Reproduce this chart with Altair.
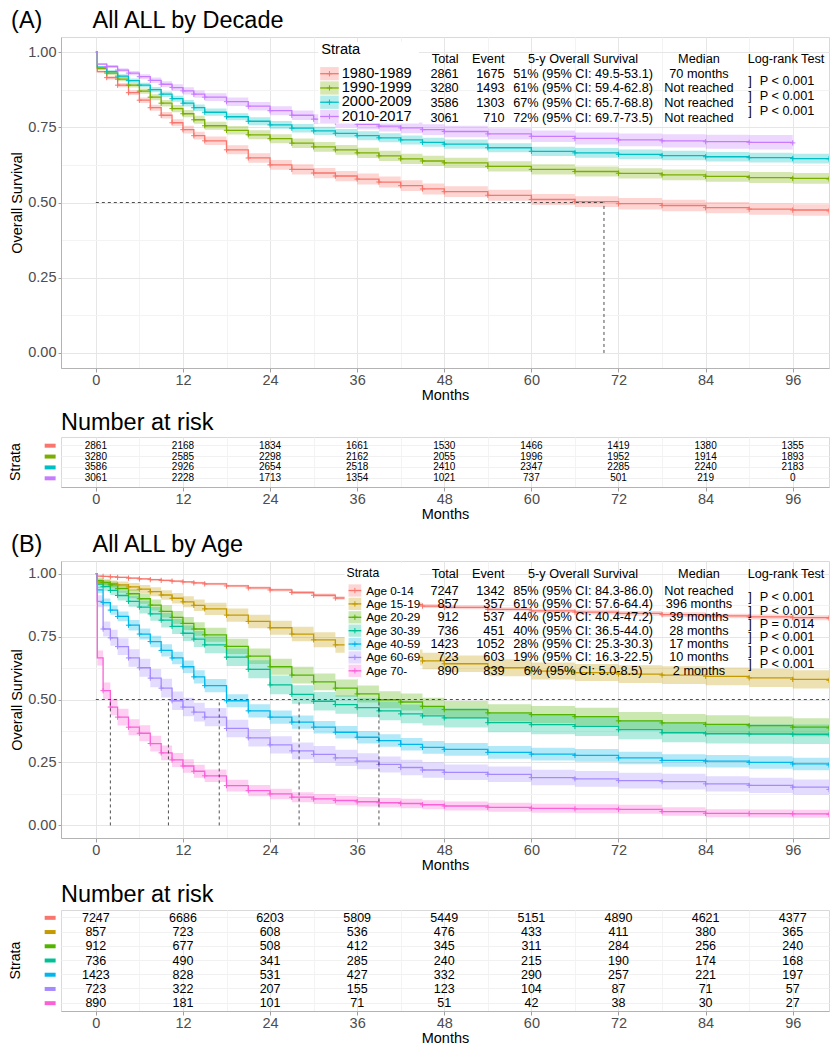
import altair as alt
import pandas as pd

FONT = "Liberation Sans"
FX = 0.978  # horizontal fit factor (reference px -> page px)
FY = 0.984  # vertical fit factor

# ---------------- Panel A: All ALL by Decade ----------------
strata_decade = ["1980-1989", "1990-1999", "2000-2009", "2010-2017"]
colors_decade = ["#F8766D", "#7CAE00", "#00BFC4", "#C77CFF"]
months_decade = [0, 0.2, 1.5, 3, 4.5, 6, 7.5, 9, 10.5, 12, 13.5, 15, 18, 21, 24, 27,
                 30, 33, 36, 39, 42, 45, 48, 54, 60, 66, 72, 78, 84, 90, 96, 101]
surv_1980s = [1.0, 0.935, 0.915, 0.89, 0.865, 0.84, 0.815, 0.79, 0.765, 0.742, 0.722, 0.705,
              0.675, 0.648, 0.625, 0.61, 0.598, 0.588, 0.578, 0.568, 0.556, 0.545, 0.536,
              0.524, 0.51, 0.503, 0.496, 0.49, 0.483, 0.478, 0.475, 0.472]
surv_1990s = [1.0, 0.945, 0.93, 0.91, 0.89, 0.87, 0.85, 0.83, 0.812, 0.795, 0.775, 0.755,
              0.74, 0.725, 0.712, 0.697, 0.685, 0.675, 0.665, 0.655, 0.645, 0.638, 0.632,
              0.62, 0.61, 0.603, 0.597, 0.592, 0.587, 0.583, 0.58, 0.578]
surv_2000s = [1.0, 0.95, 0.935, 0.92, 0.905, 0.89, 0.875, 0.86, 0.845, 0.83, 0.815, 0.80,
              0.785, 0.77, 0.758, 0.747, 0.738, 0.73, 0.722, 0.715, 0.708, 0.70, 0.694,
              0.682, 0.67, 0.665, 0.66, 0.656, 0.652, 0.649, 0.646, 0.645]
surv_2010s = [1.0, 0.96, 0.952, 0.94, 0.93, 0.918, 0.906, 0.893, 0.882, 0.871, 0.86, 0.85,
              0.835, 0.82, 0.805, 0.79, 0.777, 0.767, 0.76, 0.754, 0.748, 0.742, 0.736,
              0.728, 0.72, 0.713, 0.708, 0.705, 0.702, 0.70, 0.698, None]
half_1980s = [0, 0.004, 0.006, 0.007, 0.008, 0.009, 0.010, 0.011, 0.012, 0.013, 0.013, 0.014,
              0.015, 0.016, 0.016, 0.017, 0.017, 0.017, 0.018, 0.018, 0.018, 0.018, 0.018,
              0.018, 0.018, 0.018, 0.019, 0.019, 0.019, 0.019, 0.019, 0.019]
half_1990s = [0, 0.004, 0.006, 0.007, 0.008, 0.009, 0.010, 0.011, 0.012, 0.012, 0.013, 0.013,
              0.014, 0.015, 0.015, 0.016, 0.016, 0.016, 0.017, 0.017, 0.017, 0.017, 0.017,
              0.017, 0.017, 0.017, 0.017, 0.018, 0.018, 0.018, 0.018, 0.018]
half_2000s = [0, 0.004, 0.005, 0.006, 0.007, 0.008, 0.009, 0.009, 0.010, 0.011, 0.011, 0.012,
              0.012, 0.013, 0.013, 0.014, 0.014, 0.014, 0.015, 0.015, 0.015, 0.015, 0.015,
              0.015, 0.0155, 0.016, 0.016, 0.016, 0.016, 0.016, 0.016, 0.016]
half_2010s = [0, 0.004, 0.005, 0.006, 0.007, 0.008, 0.009, 0.010, 0.011, 0.012, 0.012, 0.013,
              0.014, 0.014, 0.015, 0.016, 0.016, 0.017, 0.017, 0.018, 0.018, 0.018, 0.019,
              0.019, 0.019, 0.020, 0.021, 0.022, 0.023, 0.024, 0.025, None]
risk_months = [0, 12, 24, 36, 48, 60, 72, 84, 96]
risk_1980s = [2861, 2168, 1834, 1661, 1530, 1466, 1419, 1380, 1355]
risk_1990s = [3280, 2585, 2298, 2162, 2055, 1996, 1952, 1914, 1893]
risk_2000s = [3586, 2926, 2654, 2518, 2410, 2347, 2285, 2240, 2183]
risk_2010s = [3061, 2228, 1713, 1354, 1021, 737, 501, 219, 0]
total_decade = [2861, 3280, 3586, 3061]
event_decade = [1675, 1493, 1303, 710]
os5_decade = ["51% (95% CI: 49.5-53.1)", "61% (95% CI: 59.4-62.8)",
              "67% (95% CI: 65.7-68.8)", "72% (95% CI: 69.7-73.5)"]
median_text_decade = ["70 months", "Not reached", "Not reached", "Not reached"]
median_months_decade = [70]
pval_decade = ["P < 0.001", "P < 0.001", "P < 0.001"]

# ---------------- Panel B: All ALL by Age ----------------
strata_age = ["Age 0-14", "Age 15-19", "Age 20-29", "Age 30-39", "Age 40-59", "Age 60-69", "Age 70-"]
colors_age = ["#F8766D", "#C49A00", "#53B400", "#00C094", "#00B6EB", "#A58AFF", "#FB61D7"]
months_age = [0, 0.2, 1, 2, 3, 4.5, 6, 7.5, 9, 10.5, 12, 13.5, 15, 18, 21, 24, 27, 30, 33,
              36, 39, 42, 45, 48, 54, 60, 66, 72, 78, 84, 90, 96, 101]
surv_0_14 = [1.0, 0.99, 0.989, 0.987, 0.985, 0.982, 0.979, 0.976, 0.973, 0.97, 0.967, 0.963,
             0.959, 0.951, 0.943, 0.935, 0.925, 0.914, 0.903, 0.894, 0.885, 0.877, 0.871,
             0.866, 0.858, 0.852, 0.847, 0.842, 0.837, 0.832, 0.828, 0.825, 0.823]
surv_15_19 = [1.0, 0.966, 0.964, 0.96, 0.955, 0.947, 0.938, 0.928, 0.915, 0.902, 0.888, 0.874,
              0.86, 0.835, 0.81, 0.785, 0.76, 0.737, 0.717, 0.70, 0.683, 0.667, 0.653, 0.642,
              0.626, 0.613, 0.607, 0.601, 0.597, 0.592, 0.586, 0.58, 0.576]
surv_20_29 = [1.0, 0.972, 0.965, 0.955, 0.94, 0.92, 0.90, 0.875, 0.85, 0.826, 0.802, 0.78,
              0.757, 0.711, 0.672, 0.63, 0.597, 0.57, 0.545, 0.522, 0.499, 0.49, 0.473, 0.46,
              0.447, 0.44, 0.432, 0.415, 0.407, 0.401, 0.396, 0.39, 0.387]
surv_30_39 = [1.0, 0.958, 0.948, 0.933, 0.913, 0.89, 0.867, 0.84, 0.815, 0.79, 0.763, 0.74,
              0.717, 0.668, 0.62, 0.558, 0.52, 0.493, 0.48, 0.468, 0.455, 0.443, 0.435, 0.427,
              0.408, 0.40, 0.393, 0.38, 0.368, 0.364, 0.363, 0.362, 0.36]
surv_40_59 = [1.0, 0.935, 0.885, 0.855, 0.83, 0.795, 0.76, 0.73, 0.695, 0.665, 0.63, 0.59,
              0.555, 0.495, 0.455, 0.43, 0.41, 0.39, 0.37, 0.35, 0.337, 0.322, 0.31, 0.302,
              0.29, 0.283, 0.278, 0.268, 0.258, 0.255, 0.25, 0.244, 0.24]
surv_60_69 = [1.0, 0.89, 0.78, 0.745, 0.71, 0.665, 0.626, 0.585, 0.545, 0.495, 0.47, 0.45,
              0.43, 0.385, 0.348, 0.32, 0.296, 0.282, 0.268, 0.255, 0.242, 0.23, 0.22, 0.211,
              0.203, 0.19, 0.185, 0.178, 0.174, 0.165, 0.159, 0.152, 0.143]
surv_70_up = [1.0, 0.665, 0.535, 0.47, 0.43, 0.39, 0.366, 0.325, 0.288, 0.26, 0.236, 0.215,
              0.197, 0.158, 0.138, 0.125, 0.112, 0.105, 0.099, 0.094, 0.09, 0.087, 0.082,
              0.077, 0.072, 0.068, 0.066, 0.064, 0.055, 0.048, 0.047, 0.046, 0.044]
half_0_14 = [0, 0.002, 0.002, 0.003, 0.003, 0.003, 0.003, 0.004, 0.004, 0.004, 0.004, 0.005,
             0.005, 0.005, 0.006, 0.006, 0.006, 0.007, 0.007, 0.007, 0.007, 0.008, 0.008,
             0.008, 0.008, 0.0085, 0.009, 0.009, 0.009, 0.009, 0.010, 0.010, 0.010]
half_15_19 = [0, 0.012, 0.012, 0.013, 0.014, 0.016, 0.017, 0.018, 0.019, 0.021, 0.022, 0.023,
              0.024, 0.026, 0.027, 0.028, 0.029, 0.030, 0.031, 0.031, 0.032, 0.032, 0.033,
              0.033, 0.034, 0.034, 0.034, 0.035, 0.035, 0.035, 0.036, 0.036, 0.036]
half_20_29 = [0, 0.011, 0.012, 0.014, 0.016, 0.018, 0.020, 0.022, 0.024, 0.025, 0.026, 0.027,
              0.028, 0.030, 0.031, 0.032, 0.033, 0.033, 0.034, 0.034, 0.034, 0.034, 0.034,
              0.034, 0.034, 0.034, 0.035, 0.035, 0.035, 0.036, 0.036, 0.036, 0.037]
half_30_39 = [0, 0.015, 0.016, 0.018, 0.020, 0.022, 0.025, 0.027, 0.029, 0.030, 0.031, 0.032,
              0.033, 0.035, 0.036, 0.037, 0.037, 0.037, 0.037, 0.037, 0.037, 0.037, 0.038,
              0.038, 0.038, 0.038, 0.038, 0.038, 0.038, 0.039, 0.039, 0.039, 0.039]
half_40_59 = [0, 0.013, 0.016, 0.018, 0.019, 0.021, 0.022, 0.023, 0.024, 0.025, 0.025, 0.026,
              0.026, 0.026, 0.026, 0.026, 0.026, 0.025, 0.025, 0.025, 0.025, 0.025, 0.025,
              0.025, 0.025, 0.025, 0.025, 0.025, 0.025, 0.025, 0.025, 0.025, 0.025]
half_60_69 = [0, 0.024, 0.030, 0.032, 0.033, 0.035, 0.036, 0.036, 0.037, 0.037, 0.037, 0.037,
              0.036, 0.035, 0.035, 0.034, 0.033, 0.033, 0.032, 0.032, 0.032, 0.031, 0.031,
              0.031, 0.031, 0.031, 0.031, 0.031, 0.031, 0.030, 0.030, 0.030, 0.030]
half_70_up = [0, 0.030, 0.033, 0.033, 0.033, 0.032, 0.032, 0.031, 0.029, 0.028, 0.027, 0.026,
              0.025, 0.023, 0.022, 0.021, 0.020, 0.020, 0.019, 0.019, 0.019, 0.019, 0.018,
              0.018, 0.018, 0.018, 0.018, 0.018, 0.017, 0.016, 0.016, 0.016, 0.016]
risk_0_14 = [7247, 6686, 6203, 5809, 5449, 5151, 4890, 4621, 4377]
risk_15_19 = [857, 723, 608, 536, 476, 433, 411, 380, 365]
risk_20_29 = [912, 677, 508, 412, 345, 311, 284, 256, 240]
risk_30_39 = [736, 490, 341, 285, 240, 215, 190, 174, 168]
risk_40_59 = [1423, 828, 531, 427, 332, 290, 257, 221, 197]
risk_60_69 = [723, 322, 207, 155, 123, 104, 87, 71, 57]
risk_70_up = [890, 181, 101, 71, 51, 42, 38, 30, 27]
total_age = [7247, 857, 912, 736, 1423, 723, 890]
event_age = [1342, 357, 537, 451, 1052, 603, 839]
os5_age = ["85% (95% CI: 84.3-86.0)", "61% (95% CI: 57.6-64.4)", "44% (95% CI: 40.4-47.2)",
           "40% (95% CI: 36.5-44.0)", "28% (95% CI: 25.3-30.3)", "19% (95% CI: 16.3-22.5)",
           "6% (95% CI: 5.0-8.5)"]
median_text_age = ["Not reached", "396 months", "39 months", "28 months", "17 months",
                   "10 months", "2 months"]
median_months_age = [396, 39, 28, 17, 10, 2]
pval_age = ["P < 0.001", "P < 0.001", "P = 0.014", "P < 0.001", "P < 0.001", "P < 0.001"]

# ---------------- layout / style ----------------
XD = [-4.8, 101.0]
YD = [-0.05, 1.05]
W = round(785.3 * FX)
H_A = round(336.6 * FY)
H_B = round(281.6 * FY)
H_RA = round(51 * FY)
H_RB = round(103 * FY)
GRID_MAJ = "#e6e6e6"
GRID_MIN = "#f3f3f3"
TICK_C = "#a0a0a0"
LAB_C = "#4d4d4d"
ONE = pd.DataFrame({"k": [0]})


def cond(test, yes, no):
    return {"condition": {"test": test, "value": yes}, "value": no}


def x_axis():
    t = "datum.value % 12 === 0"
    return alt.Axis(values=list(range(0, 97, 6)),
                    labelExpr=f"{t} ? datum.label : ''",
                    gridColor=cond(t, GRID_MAJ, GRID_MIN),
                    tickColor=cond(t, TICK_C, "transparent"),
                    tickSize=4, labelPadding=1, labelFont=FONT, labelFontSize=14.5,
                    labelColor=LAB_C, title="Months", titleFont=FONT, titleFontSize=14.5,
                    titleFontWeight="normal", titleColor="black", titlePadding=2,
                    domainColor="#b3b3b3", labelOverlap=False, labelFlush=False)


def y_axis():
    t = "(datum.value * 4) % 1 === 0"
    return alt.Axis(values=[i / 8 for i in range(9)],
                    labelExpr=f"{t} ? format(datum.value, '.2f') : ''",
                    gridColor=cond(t, GRID_MAJ, GRID_MIN),
                    tickColor=cond(t, TICK_C, "transparent"),
                    tickSize=3, labelPadding=2, labelFont=FONT, labelFontSize=14.5,
                    labelColor=LAB_C, title="Overall Survival", titleFont=FONT,
                    titleFontSize=14.5, titleFontWeight="normal", titleColor="black",
                    titlePadding=3, domainColor="#b3b3b3", labelOverlap=False, labelFlush=False)


COLS = dict(total=406.6, event=453.5, os=533.8, med=652.3, lr=741.3, br=704.5, p=714.5)


def txt(df, x, y, text, align="left", size=13, color="black", angle=None, baseline="middle"):
    kw = dict(align=align, baseline=baseline, font=FONT, fontSize=size * FX, color=color)
    if angle is not None:
        kw["angle"] = angle
    return alt.Chart(df).mark_text(**kw).encode(x=x, y=y, text=text)


def km_panel(letter, title, strata, colors, months, survs, halfs, med_months, H,
             totals, events, os5, med_text, pvals, leg, tab, letter_y):
    color = alt.Color("strata:N", scale=alt.Scale(domain=strata, range=colors), legend=None)
    xs = alt.Scale(domain=XD, nice=False, zero=False)
    ys = alt.Scale(domain=YD, nice=False, zero=False)
    xa, ya = x_axis(), y_axis()

    def X(f):
        return alt.X(f, scale=xs, axis=xa)

    def Y(f):
        return alt.Y(f, scale=ys, axis=ya, stack=None)

    def py(v):  # reference offset (px below plot top) -> data units
        return YD[1] - v * FY / H * (YD[1] - YD[0])

    rows = []
    for name, sv, hv in zip(strata, survs, halfs):
        for t, s, h in zip(months, sv, hv):
            if s is None:
                continue
            rows.append({"strata": name, "t": t, "s": s, "lo": s - h, "hi": min(s + h, 1.0)})
    cdf = pd.DataFrame(rows)

    band = alt.Chart(cdf).mark_area(interpolate="step-after", opacity=0.3, clip=True).encode(
        x=X("t:Q"), y=Y("lo:Q"), y2="hi:Q", color=color)
    line = alt.Chart(cdf).mark_line(interpolate="step-after", strokeWidth=1.3, clip=True).encode(
        x=X("t:Q"), y=Y("s:Q"), color=color)
    cens = alt.Chart(cdf).transform_filter("datum.t >= 1").mark_point(
        shape="M0,-1V1M-1,0H1", filled=False, size=28, strokeWidth=1, opacity=1,
        clip=True).encode(x=X("t:Q"), y=Y("s:Q"), color=color)

    n_med = len(med_months)
    mdf = pd.DataFrame({"x": [0] + med_months, "x2": [max(med_months)] + med_months,
                        "y": [0.5] + [0.0] * n_med, "y2": [0.5] * (n_med + 1)})
    med = alt.Chart(mdf).mark_rule(strokeDash=[3, 3], color="#222222", strokeWidth=0.8,
                                   clip=True).encode(x=X("x:Q"), x2="x2:Q", y=Y("y:Q"), y2="y2:Q")

    # legend (drawn manually, ggplot style)
    n = len(strata)
    kys = [leg["row0"] + i * leg["dy"] for i in range(n)]
    kdf = pd.DataFrame({"strata": strata,
                        "ky": [py(v) for v in kys],
                        "ky1": [py(v - leg["kh"] / 2) for v in kys],
                        "ky2": [py(v + leg["kh"] / 2) for v in kys]})
    bx1, bx2, by1, by2 = leg["bg"]
    bg = alt.Chart(ONE).mark_rect(color="white").encode(
        x=alt.value(bx1 * FX), x2=alt.value(bx2 * FX), y=alt.value(by1 * FY), y2=alt.value(by2 * FY))
    kx1, kx2 = leg["kx"]
    key_rect = alt.Chart(kdf).mark_rect(opacity=0.3).encode(
        x=alt.value(kx1 * FX), x2=alt.value(kx2 * FX), y=Y("ky1:Q"), y2="ky2:Q", color=color)
    key_line = alt.Chart(kdf).mark_rule(strokeWidth=1.3).encode(
        x=alt.value(kx1 * FX), x2=alt.value(kx2 * FX), y=Y("ky:Q"), color=color)
    key_cross = alt.Chart(kdf).mark_point(shape="M0,-1V1M-1,0H1", filled=False, size=28,
                                          strokeWidth=1, opacity=1).encode(
        x=alt.value((kx1 + kx2) / 2 * FX), y=Y("ky:Q"), color=color)
    key_lab = txt(kdf, alt.value(leg["lx"] * FX), Y("ky:Q"), "strata:N", size=leg["lfs"])
    key_title = txt(ONE, alt.value(leg["title"][0] * FX), alt.value(leg["title"][1] * FY),
                    alt.value("Strata"), size=leg["tfs"])

    # summary table
    tys = [tab["row0"] + i * tab["dy"] for i in range(n)]
    tdf = pd.DataFrame({"total": [str(v) for v in totals], "event": [str(v) for v in events],
                        "os5": os5, "median": med_text, "ty": [py(v) for v in tys]})
    pdf = pd.DataFrame({"p": pvals,
                        "py": [py(tab["row0"] + (i + 0.5) * tab["dy"]) for i in range(len(pvals))]})
    hy = alt.value(tab["hy"] * FY)
    table = [
        txt(ONE, alt.value(COLS["total"] * FX), hy, alt.value("Total"), align="right"),
        txt(ONE, alt.value(COLS["event"] * FX), hy, alt.value("Event"), align="right"),
        txt(ONE, alt.value(COLS["os"] * FX), hy, alt.value("5-y Overall Survival"), align="center"),
        txt(ONE, alt.value(COLS["med"] * FX), hy, alt.value("Median"), align="center"),
        txt(ONE, alt.value(COLS["lr"] * FX), hy, alt.value("Log-rank Test"), align="center"),
        txt(tdf, alt.value(COLS["total"] * FX), Y("ty:Q"), "total:N", align="right"),
        txt(tdf, alt.value(COLS["event"] * FX), Y("ty:Q"), "event:N", align="right"),
        txt(tdf, alt.value(COLS["os"] * FX), Y("ty:Q"), "os5:N", align="center"),
        txt(tdf, alt.value(COLS["med"] * FX), Y("ty:Q"), "median:N", align="center"),
        txt(pdf, alt.value(COLS["br"] * FX), Y("py:Q"), alt.value("]"), align="center"),
        txt(pdf, alt.value(COLS["p"] * FX), Y("py:Q"), "p:N", align="left"),
    ]
    titles = [
        txt(ONE, alt.value(-51 * FX), alt.value(letter_y * FY), alt.value(letter), size=24),
        txt(ONE, alt.value(32.3 * FX), alt.value(letter_y * FY), alt.value(title), size=24),
    ]
    layers = [band, line, cens, med, bg, key_rect, key_line, key_cross, key_lab, key_title] \
        + table + titles
    return alt.layer(*layers).properties(width=W, height=H)


def risk_panel(strata, colors, counts, H, pad_outer, head_y, num_size):
    color = alt.Color("strata:N", scale=alt.Scale(domain=strata, range=colors), legend=None)
    xs = alt.Scale(domain=XD, nice=False, zero=False)
    rdf = pd.DataFrame([{"strata": s, "t": m, "n": str(c)}
                        for s, cs in zip(strata, counts) for m, c in zip(risk_months, cs)])
    Yb = alt.Y("strata:N", sort=strata,
               scale=alt.Scale(paddingInner=0, paddingOuter=pad_outer),
               axis=alt.Axis(labels=False, ticks=False, domain=False, title=None, grid=True,
                             gridColor="#f1f1f1"))
    X = alt.X("t:Q", scale=xs, axis=x_axis())
    nums = alt.Chart(rdf).mark_text(font=FONT, fontSize=num_size, color="black").encode(
        x=X, y=Yb, text="n:N")
    dashes = alt.Chart(pd.DataFrame({"strata": strata})).mark_rule(strokeWidth=4).encode(
        x=alt.value(-16.7 * FX), x2=alt.value(-5.5 * FX), y=Yb, color=color)
    head = txt(ONE, alt.value(0), alt.value(head_y * FY), alt.value("Number at risk"), size=24)
    stt = txt(ONE, alt.value(-46 * FX), alt.value(H / 2), alt.value("Strata"), align="center",
              size=14.5, angle=270)
    return alt.layer(nums, dashes, head, stt).properties(width=W, height=H)


panel_a = km_panel(
    "(A)", "All ALL by Decade", strata_decade, colors_decade, months_decade,
    [surv_1980s, surv_1990s, surv_2000s, surv_2010s],
    [half_1980s, half_1990s, half_2000s, half_2010s], median_months_decade, H_A,
    total_decade, event_decade, os5_decade, median_text_decade, pval_decade,
    leg=dict(bg=(263, 366, 5, 88), title=(266, 13), kx=(265, 284), row0=37.3, dy=14.5,
             kh=13.5, lx=287, tfs=15, lfs=15),
    tab=dict(hy=22.3, row0=37.3, dy=15),
    letter_y=-16.2)

risk_a = risk_panel(strata_decade, colors_decade,
                    [risk_1980s, risk_1990s, risk_2000s, risk_2010s], H_RA, 0.3, -14.5, 10)

panel_b = km_panel(
    "(B)", "All ALL by Age", strata_age, colors_age, months_age,
    [surv_0_14, surv_15_19, surv_20_29, surv_30_39, surv_40_59, surv_60_69, surv_70_up],
    [half_0_14, half_15_19, half_20_29, half_30_39, half_40_59, half_60_69, half_70_up],
    median_months_age, H_B,
    total_age, event_age, os5_age, median_text_age, pval_age,
    leg=dict(bg=(290, 367, 2, 120), title=(292, 12), kx=(294, 307), row0=30, dy=13.6,
             kh=12.5, lx=312, tfs=12.5, lfs=12),
    tab=dict(hy=13, row0=30, dy=13.6),
    letter_y=-16)

risk_b = risk_panel(strata_age, colors_age,
                    [risk_0_14, risk_15_19, risk_20_29, risk_30_39, risk_40_59, risk_60_69,
                     risk_70_up], H_RB, 0.05, -15, 12.5)

top = alt.vconcat(panel_a, risk_a, spacing=7)
bottom = alt.vconcat(panel_b, risk_b, spacing=9)
chart = alt.vconcat(top, bottom, spacing=10).resolve_scale(color="independent")
chart = chart.properties(padding=0, background="white")
chart = chart.configure_view(stroke="#d9d9d9", strokeWidth=1).configure_text(font=FONT)

chart.save("out.html", embed_options={"renderer": "svg", "actions": False})
